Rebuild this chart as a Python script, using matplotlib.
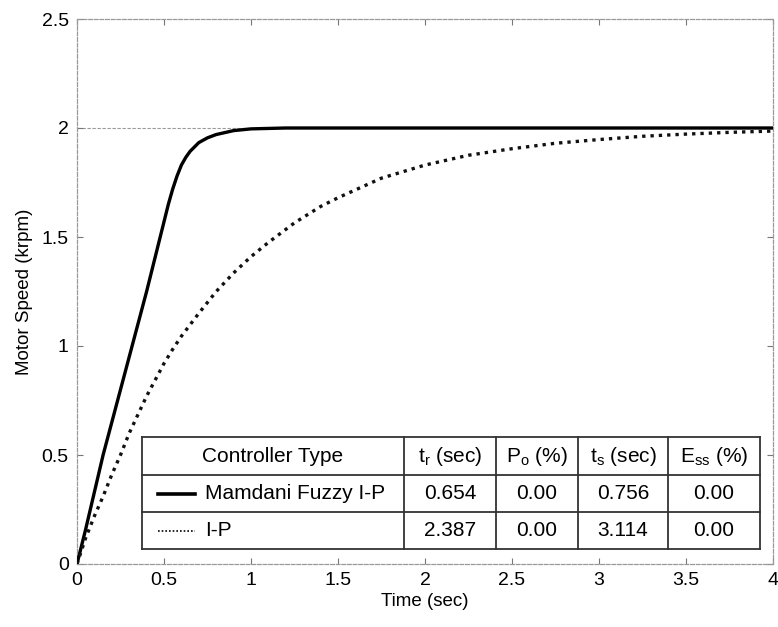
import matplotlib

matplotlib.use("Agg")
import matplotlib.pyplot as plt

plt.rcParams["font.family"] = ["Liberation Sans", "DejaVu Sans"]
plt.rcParams["mathtext.fontset"] = "custom"
plt.rcParams["mathtext.rm"] = "Liberation Sans"

# step responses
t_fuzzy = [0, 0.05, 0.1, 0.15, 0.2, 0.3, 0.4, 0.45, 0.5, 0.525, 0.55, 0.575, 0.6, 0.625, 0.65,
           0.7, 0.75, 0.8, 0.9, 1.0, 1.2, 4.0]
y_fuzzy = [0, 0.16, 0.33, 0.50, 0.65, 0.95, 1.25, 1.41, 1.57, 1.65, 1.72, 1.78, 1.83, 1.865, 1.893,
           1.933, 1.955, 1.97, 1.988, 1.996, 2.0, 2.0]

t_ip = [0, 0.05, 0.1, 0.15, 0.2, 0.25, 0.3, 0.35, 0.4, 0.45, 0.5, 0.55, 0.6, 0.7, 0.8, 0.9, 1.0,
        1.1, 1.25, 1.4, 1.5, 1.75, 2.0, 2.25, 2.5, 2.75, 3.0, 3.25, 3.5, 3.75, 4.0]
y_ip = [0, 0.12, 0.22, 0.31, 0.41, 0.50, 0.60, 0.685, 0.77, 0.845, 0.92, 0.985, 1.045, 1.15, 1.25,
        1.335, 1.41, 1.475, 1.565, 1.64, 1.68, 1.77, 1.83, 1.875, 1.905, 1.93, 1.947, 1.962,
        1.972, 1.98, 1.986]

setpoint = 2.0

# performance table
header = ["Controller Type", r"t$_\mathregular{r}$ (sec)", r"P$_\mathregular{o}$ (%)",
          r"t$_\mathregular{s}$ (sec)", r"E$_\mathregular{ss}$ (%)"]
row_names = ["Mamdani Fuzzy I-P", "I-P"]
row_values = [["0.654", "0.00", "0.756", "0.00"],
              ["2.387", "0.00", "3.114", "0.00"]]

fig = plt.figure(figsize=(7.78, 6.27), dpi=100)
ax = fig.add_axes([77 / 778, 1 - 564 / 627, 696 / 778, 545 / 627])

ax.axhline(setpoint, color="#999999", lw=0.8, ls=(0, (3, 1.5)), zorder=1)
ax.plot(t_fuzzy, y_fuzzy, color="black", lw=2.4, solid_joinstyle="round", zorder=3)
ax.plot(t_ip, y_ip, color="#111111", lw=2.4, ls=(0, (1, 1.5)), zorder=3)

ax.set_xlim(0, 4)
ax.set_ylim(0, 2.5)
ax.set_xticks([0, 0.5, 1, 1.5, 2, 2.5, 3, 3.5, 4])
ax.set_xticklabels(["0", "0.5", "1", "1.5", "2", "2.5", "3", "3.5", "4"])
ax.set_yticks([0, 0.5, 1, 1.5, 2, 2.5])
ax.set_yticklabels(["0", "0.5", "1", "1.5", "2", "2.5"])
ax.tick_params(direction="in", length=4, width=0.8, color="#777777", labelsize=14,
               top=True, right=True, pad=6)
for s in ax.spines.values():
    s.set_color("#999999")
    s.set_linewidth(0.9)
    s.set_linestyle((0, (3, 1.5)))
ax.set_xlabel("Time (sec)", fontsize=13.5, labelpad=3)
ax.set_ylabel("Motor Speed (krpm)", fontsize=13.5, labelpad=6)

# table drawn in axes fraction coordinates
cols = [0.093, 0.470, 0.602, 0.720, 0.849, 0.981]
rows = [0.233, 0.163, 0.0954, 0.0275]
tr = ax.transAxes
lc = "#333333"
ax.fill_between([cols[0], cols[-1]], rows[-1], rows[0], transform=tr, color="white", zorder=4)
for yv in rows:
    ax.plot([cols[0], cols[-1]], [yv, yv], transform=tr, color=lc, lw=1.3, zorder=5)
for xv in cols:
    ax.plot([xv, xv], [rows[-1], rows[0]], transform=tr, color=lc, lw=1.3, zorder=5)

fs = 15
for i, h in enumerate(header):
    ax.text((cols[i] + cols[i + 1]) / 2, (rows[0] + rows[1]) / 2, h, transform=tr,
            ha="center", va="center", fontsize=fs, zorder=6)
styles = ["-", (0, (1, 1.2))]
widths = [2.6, 1.2]
for r, name in enumerate(row_names):
    yc = (rows[r + 1] + rows[r + 2]) / 2
    ax.plot([0.116, 0.170], [yc, yc], transform=tr, color="black", lw=widths[r],
            ls=styles[r], zorder=6)
    ax.text(0.184, yc, name, transform=tr, ha="left", va="center", fontsize=fs, zorder=6)
    for c, v in enumerate(row_values[r]):
        ax.text((cols[c + 1] + cols[c + 2]) / 2, yc, v, transform=tr,
                ha="center", va="center", fontsize=fs, zorder=6)

fig.savefig("out.png", dpi=100)
